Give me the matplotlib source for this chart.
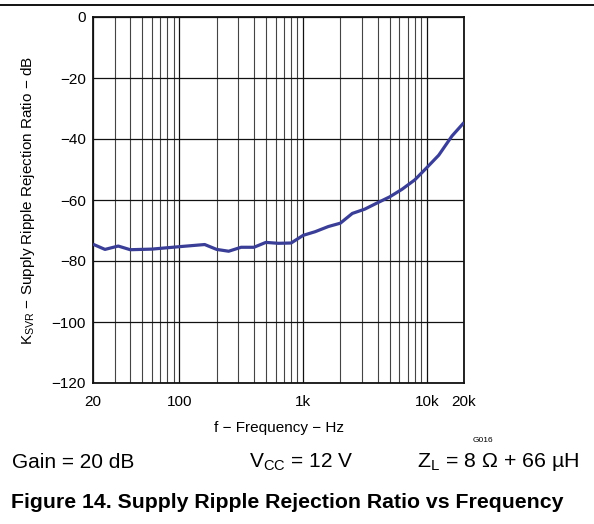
import matplotlib
matplotlib.use("Agg")
import matplotlib.pyplot as plt
from matplotlib.ticker import FixedLocator, FixedFormatter, NullFormatter

plt.rcParams['font.family'] = ['Liberation Sans', 'DejaVu Sans']
plt.rcParams['mathtext.fontset'] = 'custom'
plt.rcParams['mathtext.rm'] = 'Liberation Sans'

# data
freq_hz = [20, 25, 32, 40, 60, 100, 160, 200, 250, 315, 400, 500, 630, 800,
           1000, 1250, 1600, 2000, 2500, 3150, 4000, 5000, 6300, 8000,
           10000, 12500, 16000, 20000]
ksvr_db = [-74.5, -76.2, -75.1, -76.3, -76.1, -75.3, -74.6, -76.2, -76.8, -75.5,
           -75.5, -73.9, -74.2, -74.1, -71.6, -70.4, -68.7, -67.6, -64.4, -63.0,
           -60.9, -59.0, -56.5, -53.4, -49.4, -45.3, -39.0, -34.6]

x_ticks = [20, 100, 1000, 10000, 20000]
x_ticklabels = ['20', '100', '1k', '10k', '20k']
x_minor = [30, 40, 50, 60, 70, 80, 90, 200, 300, 400, 500, 600, 700, 800, 900,
           2000, 3000, 4000, 5000, 6000, 7000, 8000, 9000]
y_ticks = [0, -20, -40, -60, -80, -100, -120]
y_ticklabels = ['0', '\u221220', '\u221240', '\u221260', '\u221280', '\u2212100', '\u2212120']

W, H = 594, 524
fig = plt.figure(figsize=(W / 100, H / 100), dpi=100)
ax = fig.add_axes([93 / W, 1 - 383 / H, (464 - 93) / W, (383 - 17) / H])

ax.set_xscale('log')
ax.set_xlim(20, 20000)
ax.set_ylim(-120, 0)

ax.xaxis.set_major_locator(FixedLocator(x_ticks))
ax.xaxis.set_major_formatter(FixedFormatter(x_ticklabels))
ax.xaxis.set_minor_locator(FixedLocator(x_minor))
ax.xaxis.set_minor_formatter(NullFormatter())
ax.yaxis.set_major_locator(FixedLocator(y_ticks))
ax.yaxis.set_major_formatter(FixedFormatter(y_ticklabels))

ax.grid(True, which='major', axis='both', color='#111111', linewidth=0.9)
ax.grid(True, which='minor', axis='x', color='#444444', linewidth=0.8)
ax.set_axisbelow(True)

ax.tick_params(axis='both', which='both', length=0, labelsize=11)
ax.tick_params(axis='x', pad=9)
ax.tick_params(axis='y', pad=5)

for s in ax.spines.values():
    s.set_linewidth(1.3)
    s.set_color('#111111')

ax.plot(freq_hz, ksvr_db, color='#3a3e96', linewidth=2.3, solid_capstyle='butt', zorder=3)

ax.set_xlabel('f \u2212 Frequency \u2212 Hz', fontsize=11)
ax.xaxis.set_label_coords(0.5, -0.105)
ylab = ax.set_ylabel('K$_{\\mathregular{SVR}}$ \u2212 Supply Ripple Rejection Ratio \u2212 dB',
                     fontsize=11, va='center')
ax.yaxis.set_label_coords(-(93 - 28) / (464 - 93), 0.5)

# top rule
fig.add_artist(plt.Line2D([0, 1], [1 - 5 / H, 1 - 5 / H], color='black', linewidth=1.3))

# conditions
fig.text(12 / W, 1 - 462 / H, 'Gain = 20 dB', fontsize=15, va='center', ha='left')
fig.text(249 / W, 1 - 462 / H, 'V$_{\\mathregular{CC}}$ = 12 V', fontsize=15, va='center', ha='left')
fig.text(579 / W, 1 - 462 / H, 'Z$_{\\mathregular{L}}$ = 8 $\\mathregular{\\Omega}$ + 66 \u00b5H',
         fontsize=15.4, va='center', ha='right')
fig.text(483 / W, 1 - 440 / H, 'G016', fontsize=6, va='center', ha='center')

fig.text(11 / W, 1 - 503 / H, 'Figure 14. Supply Ripple Rejection Ratio vs Frequency',
         fontsize=15.3, fontweight='bold', va='center', ha='left')

fig.savefig('out.png', dpi=100)
